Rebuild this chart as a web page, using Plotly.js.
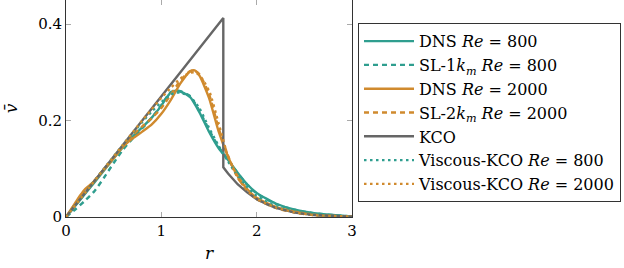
<!DOCTYPE html>
<html>
<head>
<meta charset="utf-8">
<script src="https://cdn.plot.ly/plotly-3.0.1.min.js"></script>
<style>html,body{margin:0;padding:0;background:#fff;}#chart{width:624px;height:268px;}</style>
</head>
<body>
<div id="chart"></div>
<script>
// ---- data ----
const rDns800 = [0,0.1,0.2,0.3,0.4,0.5,0.6,0.7,0.8,0.9,1.0,1.05,1.1,1.15,1.2,1.3,1.4,1.5,1.6,1.7,1.8,1.9,2.0,2.2,2.4,2.6,2.8,3.0];
const vDns800 = [0,0.024,0.048,0.072,0.097,0.122,0.146,0.167,0.186,0.206,0.231,0.246,0.258,0.262,0.260,0.249,0.217,0.177,0.143,0.118,0.092,0.068,0.050,0.028,0.015,0.008,0.004,0.001];

const rSl800 = [0,0.1,0.2,0.3,0.4,0.5,0.6,0.7,0.8,0.9,1.0,1.05,1.1,1.15,1.2,1.3,1.4,1.5,1.6,1.7,1.8,1.9,2.0,2.2,2.4,2.6,2.8,3.0];
const vSl800 = [0,0.016,0.034,0.054,0.082,0.112,0.140,0.163,0.184,0.206,0.232,0.247,0.259,0.262,0.261,0.251,0.220,0.181,0.146,0.119,0.091,0.067,0.049,0.027,0.015,0.008,0.004,0.001];

const rDns2000 = [0,0.05,0.1,0.15,0.2,0.25,0.3,0.4,0.5,0.6,0.7,0.8,0.9,1.0,1.1,1.2,1.3,1.35,1.4,1.5,1.6,1.7,1.8,1.9,2.0,2.2,2.4,2.6,2.8,3.0];
const vDns2000 = [0,0.015,0.030,0.045,0.058,0.066,0.075,0.098,0.122,0.146,0.163,0.177,0.192,0.214,0.243,0.277,0.302,0.304,0.293,0.247,0.178,0.125,0.085,0.058,0.040,0.021,0.011,0.005,0.002,0.001];

const rSl2000 = [0,0.1,0.2,0.3,0.4,0.5,0.6,0.7,0.8,0.9,1.0,1.1,1.2,1.3,1.35,1.4,1.5,1.6,1.7,1.8,1.9,2.0,2.2,2.4,2.6,2.8,3.0];
const vSl2000 = [0,0.028,0.054,0.076,0.100,0.124,0.148,0.170,0.188,0.205,0.226,0.254,0.283,0.302,0.303,0.296,0.255,0.185,0.127,0.082,0.055,0.037,0.019,0.009,0.004,0.002,0.001];

const rKco = [0,1.65,1.65,1.7,1.8,1.9,2.0,2.1,2.2,2.4,2.6,2.8,3.0];
const vKco = [0,0.4125,0.103,0.090,0.068,0.051,0.037,0.027,0.019,0.009,0.004,0.0015,0.0005];

const rVis800 = [0,0.2,0.4,0.6,0.8,0.9,1.0,1.1,1.15,1.2,1.3,1.4,1.5,1.6,1.7,1.8,1.9,2.0,2.2,2.4,2.6,2.8,3.0];
const vVis800 = [0,0.05,0.1,0.15,0.197,0.219,0.238,0.254,0.258,0.258,0.250,0.225,0.185,0.148,0.115,0.085,0.062,0.044,0.022,0.011,0.005,0.002,0.001];

const rVis2000 = [0,0.2,0.4,0.6,0.8,1.0,1.1,1.2,1.3,1.35,1.4,1.5,1.6,1.7,1.8,1.9,2.0,2.2,2.4,2.6,2.8,3.0];
const vVis2000 = [0,0.05,0.1,0.15,0.2,0.247,0.268,0.287,0.299,0.300,0.294,0.262,0.195,0.125,0.082,0.055,0.038,0.020,0.010,0.004,0.002,0.001];

const names = [
  'DNS <i>Re</i> = 800',
  'SL-1<i>k</i><sub><i>m</i></sub> <i>Re</i> = 800',
  'DNS <i>Re</i> = 2000',
  'SL-2<i>k</i><sub><i>m</i></sub> <i>Re</i> = 2000',
  'KCO',
  'Viscous-KCO <i>Re</i> = 800',
  'Viscous-KCO <i>Re</i> = 2000'
];
const xTicks = [0,1,2,3];
const xTickText = ['0','1','2','3'];
const yTicks = [0,0.2,0.4];
const yTickText = ['0','0.2','0.4'];

// ---- styles ----
const teal = '#2f9e8f';
const orange = '#d08a2e';
const grey = '#666666';
const W = 2.4;

function tr(x, y, name, color, dash, shape, g) {
  return {x: x, y: y, name: name, type: 'scatter', mode: 'lines',
    legendgroup: g,
    line: {color: color, width: W, dash: dash, shape: shape, smoothing: 0.6}};
}

const data = [
  tr(rDns800, vDns800, names[0], teal, 'solid', 'spline', 'a'),
  tr(rSl800, vSl800, names[1], teal, '5px,4px', 'spline', 'b'),
  tr(rDns2000, vDns2000, names[2], orange, 'solid', 'spline', 'c'),
  tr(rSl2000, vSl2000, names[3], orange, '5px,4px', 'spline', 'd'),
  tr(rKco, vKco, names[4], grey, 'solid', 'linear', 'e'),
  tr(rVis800, vVis800, names[5], teal, '2.5px,3.5px', 'spline', 'f'),
  tr(rVis2000, vVis2000, names[6], orange, '2.5px,3.5px', 'spline', 'g')
];

const FAM = 'DejaVu Serif, Liberation Serif, Times New Roman, serif';
function mk(size) { return {family: FAM, size: size, color: '#000'}; }

const layout = {
  width: 624, height: 268,
  margin: {l: 66, r: 272, t: 0, b: 51, pad: 0},
  paper_bgcolor: '#fff', plot_bgcolor: '#fff',
  font: mk(15),
  showlegend: true,
  legend: {
    x: 1.021, y: 0.893, xanchor: 'left', yanchor: 'top',
    bordercolor: '#333', borderwidth: 1, bgcolor: '#fff',
    font: mk(16), itemwidth: 50,
    tracegroupgap: 0, traceorder: 'normal'
  },
  xaxis: {
    range: [0, 3], tickvals: xTicks, ticktext: xTickText,
    ticks: 'inside', ticklen: 5, tickcolor: '#aaa', tickwidth: 1,
    showline: true, linecolor: '#333', linewidth: 1, mirror: 'ticks',
    showgrid: false, zeroline: false,
    tickfont: mk(15),
    title: {text: '<i>r</i>', font: mk(17), standoff: 8}
  },
  yaxis: {
    range: [0, 0.45], tickvals: yTicks, ticktext: yTickText,
    ticks: 'inside', ticklen: 5, tickcolor: '#aaa', tickwidth: 1,
    showline: true, linecolor: '#333', linewidth: 1, mirror: 'ticks',
    showgrid: false, zeroline: false,
    tickfont: mk(15),
    title: {text: '<i>v̄</i>', font: mk(17), standoff: 16}
  }
};

Plotly.newPlot('chart', data, layout, {staticPlot: true, displayModeBar: false});
</script>
</body>
</html>
